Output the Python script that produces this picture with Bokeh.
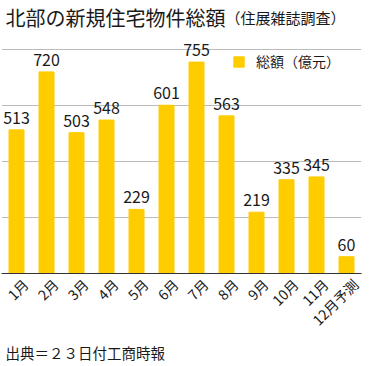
from bokeh.plotting import figure
from bokeh.models import (ColumnDataSource, LabelSet, Label, Title, Range1d, FixedTicker,
                          Legend, LegendItem, LinearAxis)
from bokeh.core.properties import value
from bokeh.embed import file_html
from bokeh.resources import INLINE
from math import pi

months = ["1月", "2月", "3月", "4月", "5月", "6月", "7月", "8月", "9月", "10月", "11月", "12月予測"]
totals = [513, 720, 503, 548, 229, 601, 755, 563, 219, 335, 345, 60]
grid_ticks = [200, 400, 600, 800]
title_main = "北部の新規住宅物件総額"
title_sub = "（住展雑誌調査）"
series_name = "総額（億元）"
source_note = "出典＝２３日付工商時報"

FONT = "Noto Sans CJK JP"
TXT = "#1a1a1a"

idx = list(range(len(months)))
src = ColumnDataSource(dict(i=idx, m=months, v=totals, t=[str(x) for x in totals]))

# each month occupies one unit slot centred on its index
p = figure(x_range=Range1d(-0.5, len(months) - 0.5), y_range=Range1d(0, 975),
           width=364, height=366, output_backend="svg", toolbar_location=None,
           min_border_left=1, min_border_right=3, min_border_top=0, min_border_bottom=93)
p.outline_line_color = None
p.title = None

r = p.vbar(x="i", top="v", width=0.5, source=src, color="#FFCC00")

p.add_layout(LabelSet(x="i", y="v", text="t", source=src, text_align="center",
                      text_baseline="alphabetic", y_offset=6, text_font_size="16px",
                      text_font=value(FONT), text_color=TXT))

p.yaxis.visible = False
p.xaxis.visible = False
p.xgrid.visible = False
p.ygrid.ticker = FixedTicker(ticks=grid_ticks)
p.ygrid.grid_line_color = "#BBBBBB"
p.ygrid.grid_line_width = 1

# month labels axis, shifted a little right like the original's rotated labels
p.extra_x_ranges = {"lab": Range1d(-0.8, len(months) - 0.8)}
ax = LinearAxis(x_range_name="lab", ticker=FixedTicker(ticks=idx),
                major_label_overrides={i: m for i, m in zip(idx, months)})
ax.axis_line_color = "#333333"
ax.major_tick_line_color = None
ax.minor_tick_line_color = None
ax.major_tick_out = 0
ax.major_tick_in = 0
ax.minor_tick_out = 0
ax.major_label_standoff = 8
ax.major_label_orientation = pi / 4
ax.major_label_text_font = FONT
ax.major_label_text_font_size = "14px"
ax.major_label_text_color = TXT
p.add_layout(ax, "below")

legend = Legend(items=[LegendItem(label=series_name, renderers=[r])], location=(231, 202),
                padding=0, margin=0, spacing=0, glyph_width=13, glyph_height=13,
                label_text_font=FONT, label_text_font_size="14px", label_text_color=TXT,
                label_standoff=11, background_fill_alpha=0, border_line_color=None)
p.add_layout(legend, "center")

p.add_layout(Label(x=4, x_units="screen", y=915, text=title_main, text_baseline="alphabetic",
                   text_font=FONT, text_font_size="20px", text_color=TXT))
p.add_layout(Label(x=224, x_units="screen", y=915, text=title_sub, text_baseline="alphabetic",
                   text_font=FONT, text_font_size="15px", text_color=TXT))

p.add_layout(Title(text=source_note, text_font=FONT, text_font_size="14.5px",
                   text_font_style="normal", text_color=TXT, offset=4, standoff=0), "below")

open("out.html", "w").write(file_html(p, INLINE))
